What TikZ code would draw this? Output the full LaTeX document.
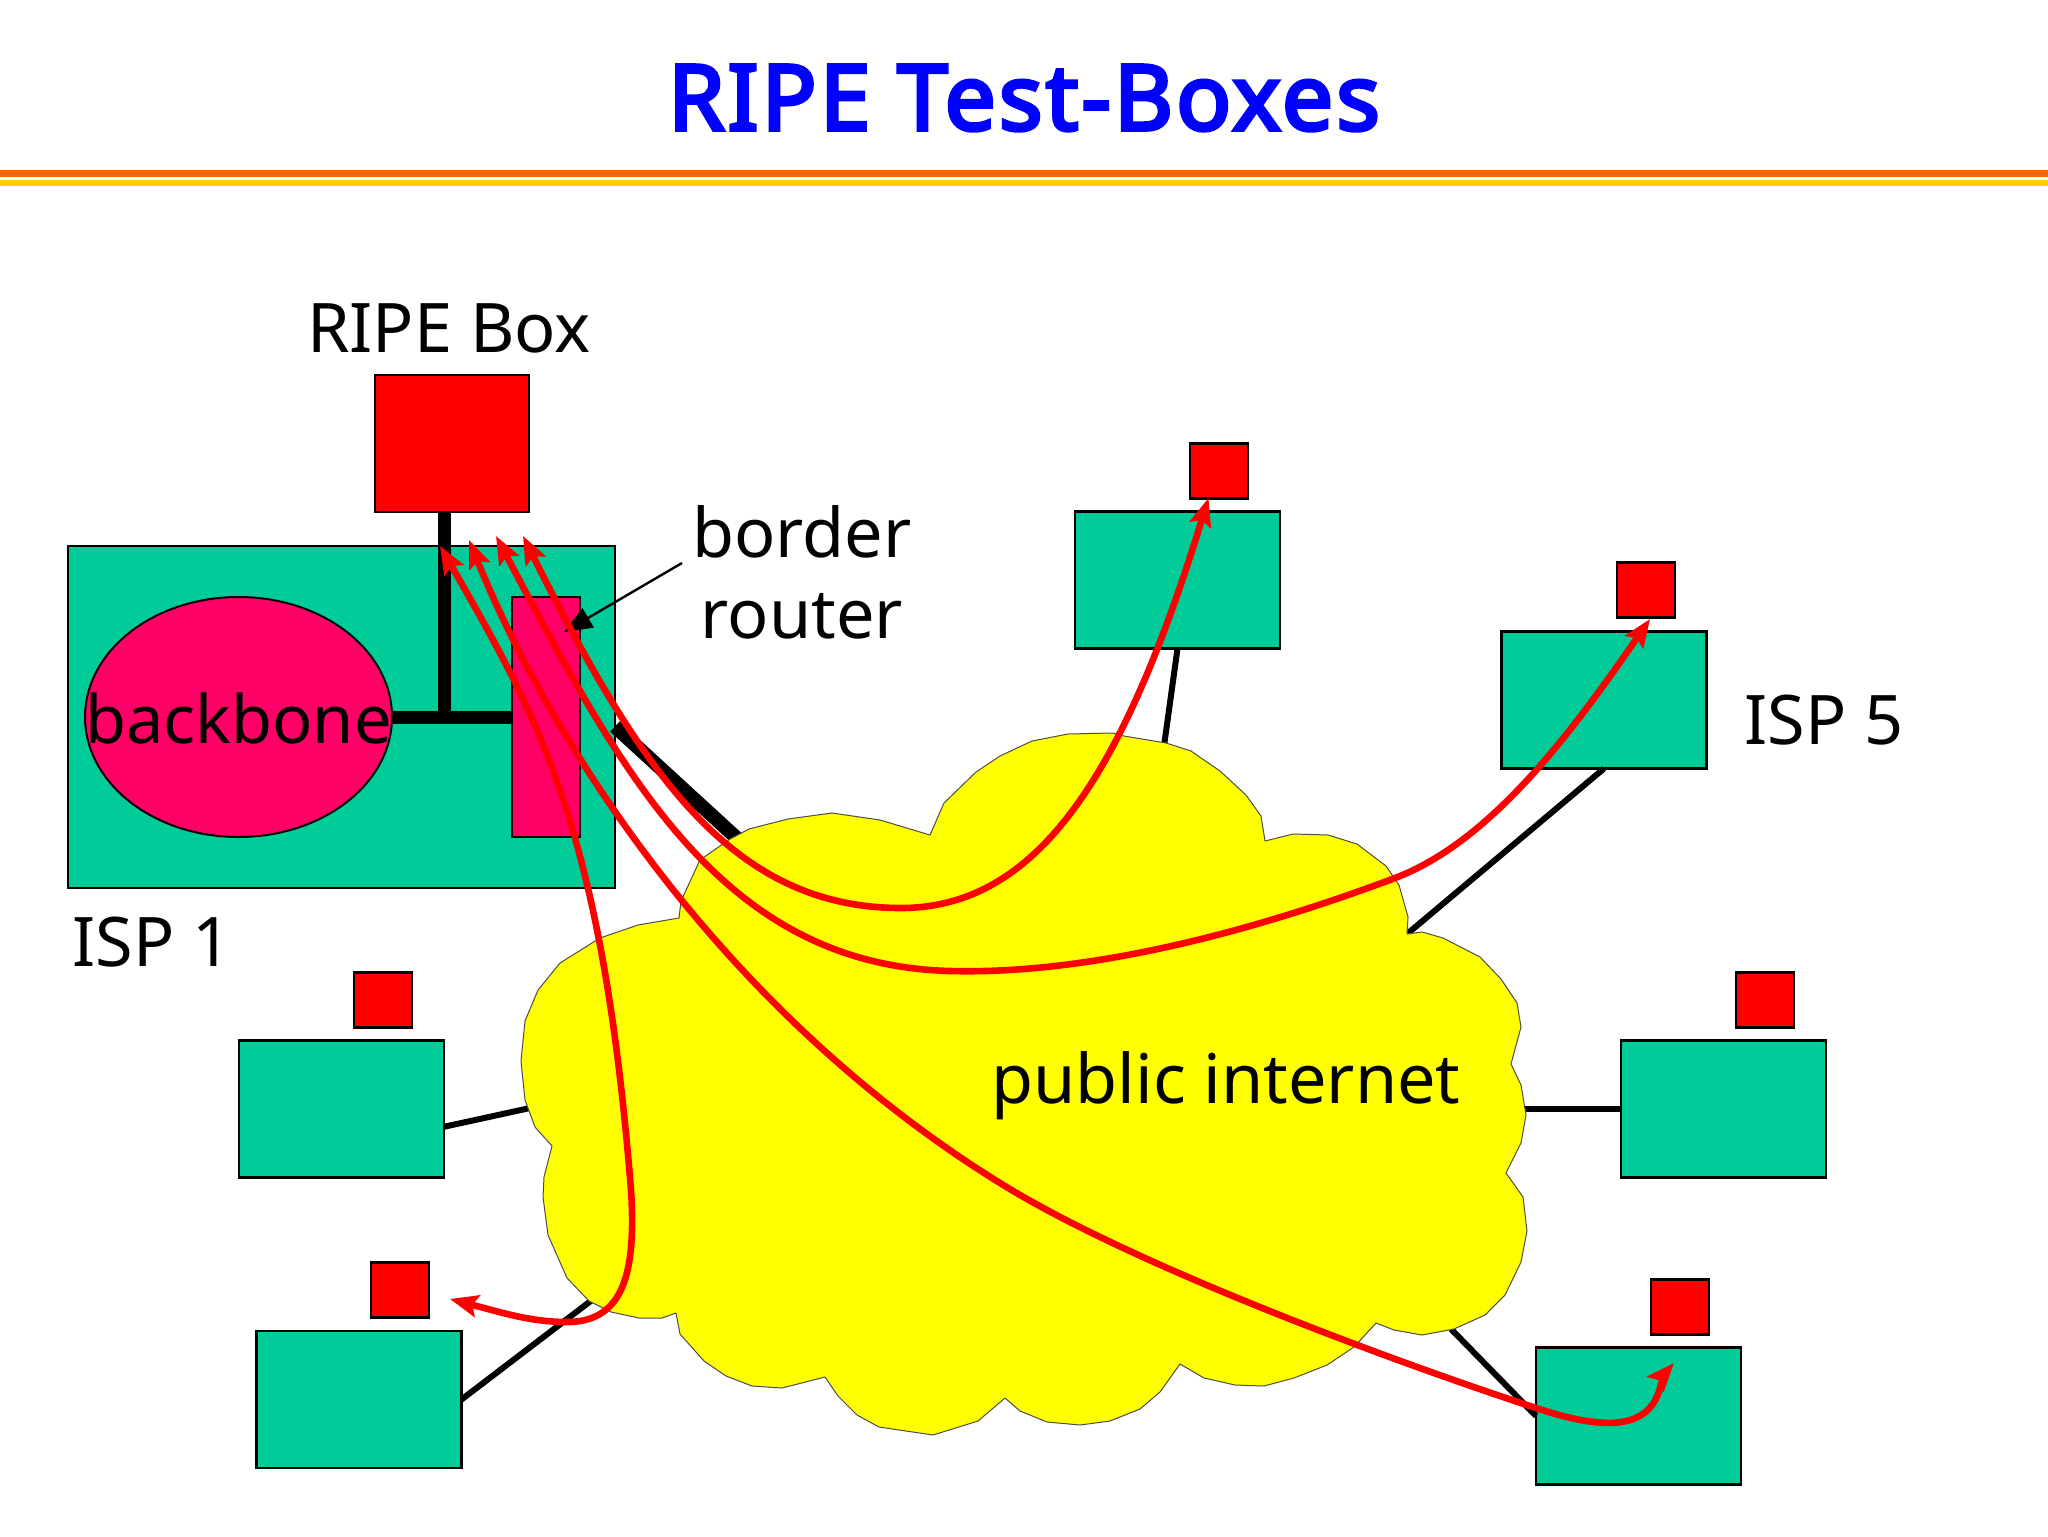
\documentclass[tikz,border=0pt]{standalone}
\usepackage{fontspec}
\setmainfont{Noto Sans}
\newfontfamily\titlefont{Noto Sans}[FakeBold=4,LetterSpace=3.4]
\usetikzlibrary{arrows.meta,shapes.geometric}
\definecolor{ispgreen}{HTML}{00CC99}
\definecolor{hotpink}{HTML}{FF0066}
\definecolor{rulea}{HTML}{FF6600}
\definecolor{ruleb}{HTML}{FFCC00}
\definecolor{cloudy}{RGB}{255,255,0}
\definecolor{puretitle}{RGB}{0,0,255}
\definecolor{purered}{RGB}{255,0,0}
\tikzset{
  box/.style={draw=black,line width=1.4pt,inner sep=0pt,outer sep=0pt},
  isp/.style={box,fill=ispgreen,minimum width=102.5pt,minimum height=68.5pt},
  probe/.style={box,line width=1.1pt,fill=purered,minimum width=29pt,minimum height=27.5pt},
  link/.style={draw=black,line width=3pt},
  fat/.style={draw=black,line width=6.5pt},
  path red/.style={draw=purered,line width=3.3pt,line join=round,
    {Stealth[length=14pt,width=11pt,inset=2.5pt]}-{Stealth[length=14pt,width=11pt,inset=2.5pt]}},
  lab/.style={inner sep=0pt,anchor=base,font=\fontsize{34.2pt}{34.2pt}\selectfont},
}
\begin{document}
\begin{tikzpicture}[x=0.5pt,y=-0.5pt]
\useasboundingbox (0,0) rectangle (2048,1536);
\fill[white] (0,0) rectangle (2048,1536);

% title and rules
\node[inner sep=0pt,anchor=base,text=puretitle,font=\titlefont\fontsize{45.5pt}{45.5pt}\selectfont] (title) at (1024,130) {RIPE Test-Boxes};
\fill[rulea] (0,170) rectangle (2048,177);
\fill[ruleb] (0,180) rectangle (2048,186);

% boxes
\node[isp] (a) at (1177.5,580) {};
\node[isp] (b) at (1604,700) {};
\node[isp] (c) at (1723.5,1108.7) {};
\node[isp] (d) at (1638.5,1416) {};
\node[isp] (e) at (341.5,1108.7) {};
\node[isp] (f) at (359,1399.5) {};
\node[probe] (ra) at (1218.7,471) {};
\node[probe] (rb) at (1645.7,590) {};
\node[probe] (rc) at (1765,1000) {};
\node[probe] (rd) at (1680,1307) {};
\node[probe] (re) at (383,1000) {};
\node[probe] (rf) at (400,1290) {};

% ISP 1
\node[isp,minimum width=273.5pt,minimum height=171pt] (isp1) at (341.5,717) {};
\node[box,line width=1.1pt,fill=purered,minimum width=77pt,minimum height=68.5pt] (ripe) at (452,443.5) {};
\node[box,line width=1pt,fill=hotpink,ellipse,minimum width=153.5pt,minimum height=120pt] (bb) at (238.5,717) {};
\node[box,line width=1pt,fill=hotpink,minimum width=34.25pt,minimum height=119.75pt] (router) at (546,717) {};
\coordinate (j) at (444,717);
\draw[fat] (bb.east) -- (router.west);
\draw[fat] (j) -- (j |- ripe.south);

% attachment points on the cloud
\coordinate (ca) at (1164,746);
\coordinate (cb) at (1407,934);
\coordinate (cc) at (1522,1108.7);
\coordinate (cd) at (1451,1329);
\coordinate (ce) at (530,1108);
\coordinate (cf) at (592,1300);
\coordinate (c1) at (741,842);

% links, under the cloud
\draw[link] (a.south) -- (ca);
\draw[link] (b.south) -- (cb);
\draw[link] (c.west) -- (cc);
\draw[link] (d.west) -- (cd);
\draw[link] (e.-10) -- (ce);
\draw[link] (f.east) -- (cf);
\draw[fat,line width=7pt] (isp1.-2) -- (c1);

% cloud
\draw[fill=cloudy,draw=black!70,line width=0.5pt,line join=round]
  (930,835) -- (944,803) -- (976,772) -- (1000,756) -- (1032,741) -- (1068,734) -- (1112,733)
  -- (1124,736) -- (1166,743) -- (1191,751) -- (1220,771) -- (1246,795) -- (1261,816) -- (1265,841)
  -- (1293,834) -- (1328,835) -- (1357,844) -- (1386,866) -- (1399,885) -- (1408,917) -- (1407,934)
  -- (1422,932) -- (1443,938) -- (1480,957) -- (1501,979) -- (1517,1003) -- (1521,1027) -- (1511,1064)
  -- (1521,1085) -- (1526,1115) -- (1521,1143) -- (1506,1173) -- (1523,1197) -- (1527,1231) -- (1521,1262)
  -- (1505,1295) -- (1485,1315) -- (1454,1329) -- (1422,1335) -- (1394,1330) -- (1376,1323)
  -- (1354,1347) -- (1327,1365) -- (1294,1378) -- (1264,1386) -- (1235,1385) -- (1204,1378) -- (1180,1364)
  -- (1160,1392) -- (1140,1409) -- (1110,1421) -- (1080,1425) -- (1047,1422) -- (1020,1411) -- (1005,1398)
  -- (978,1421) -- (933,1435) -- (879,1427) -- (857,1415) -- (838,1396) -- (825,1377)
  -- (782,1388) -- (752,1386) -- (726,1376) -- (704,1361) -- (680,1334) -- (676,1313)
  -- (662,1318) -- (639,1318) -- (611,1312) -- (589,1301) -- (567,1278) -- (548,1235) -- (543,1197)
  -- (544,1177) -- (552,1146) -- (535,1127) -- (525,1100) -- (521,1061) -- (525,1021) -- (538,990)
  -- (560,963) -- (600,938) -- (638,925) -- (679,918) -- (681,901) -- (700,860) -- (730,839)
  -- (749,829) -- (788,819) -- (832,813) -- (880,820) -- cycle;

% labels
\node[lab] (lripe) at (449,352) {RIPE Box};
\node[lab] (lborder) at (802,557) {border};
\node[lab] (lrouter) at (802,638.5) {router};
\node[lab,font=\fontsize{33.4pt}{33.4pt}\selectfont] (lbb) at (238.5,743.5) {backbone};
\node[lab] (lisp1) at (152,966) {ISP 1};
\node[lab] (lisp5) at (1824,744) {ISP 5};
\node[lab] (lnet) at (1226,1103) {public internet};

% border router pointer
\coordinate (brtail) at (682,563);
\coordinate (brtip) at (564,632);
\draw[line width=1.2pt,-{Stealth[length=14pt,width=11pt,inset=0pt]}] (brtail) -- (brtip);

% test traffic
\coordinate (t1a) at (523,536); \coordinate (t1b) at (1208.5,498);
\coordinate (t2a) at (496,536); \coordinate (t2b) at (1650,619);
\coordinate (t3a) at (469,540); \coordinate (t3b) at (1674,1363);
\coordinate (t4a) at (440,546); \coordinate (t4b) at (450,1299);
\draw[path red] (t1a) .. controls (640,770) and (730,908) .. (901,908)
  .. controls (1040,908) and (1125,770) .. (t1b);
\draw[path red] (t2a) .. controls (620,770) and (720,965) .. (950,971)
  .. controls (1100,975) and (1270,925) .. (1395,878)
  .. controls (1490,842) and (1570,735) .. (t2b);
\draw[path red] (t3a) .. controls (550,740) and (720,1010) .. (1000,1183)
  .. controls (1130,1264) and (1390,1360) .. (1530,1406)
  .. controls (1600,1430) and (1648,1432) .. (1660,1388)
  .. controls (1662,1380) and (1666,1372) .. (t3b);
\draw[path red] (t4a) .. controls (540,720) and (602,830) .. (631,1190)
  .. controls (636,1270) and (625,1322) .. (567,1322)
  .. controls (530,1322) and (500,1312) .. (t4b);
\end{tikzpicture}
\end{document}
